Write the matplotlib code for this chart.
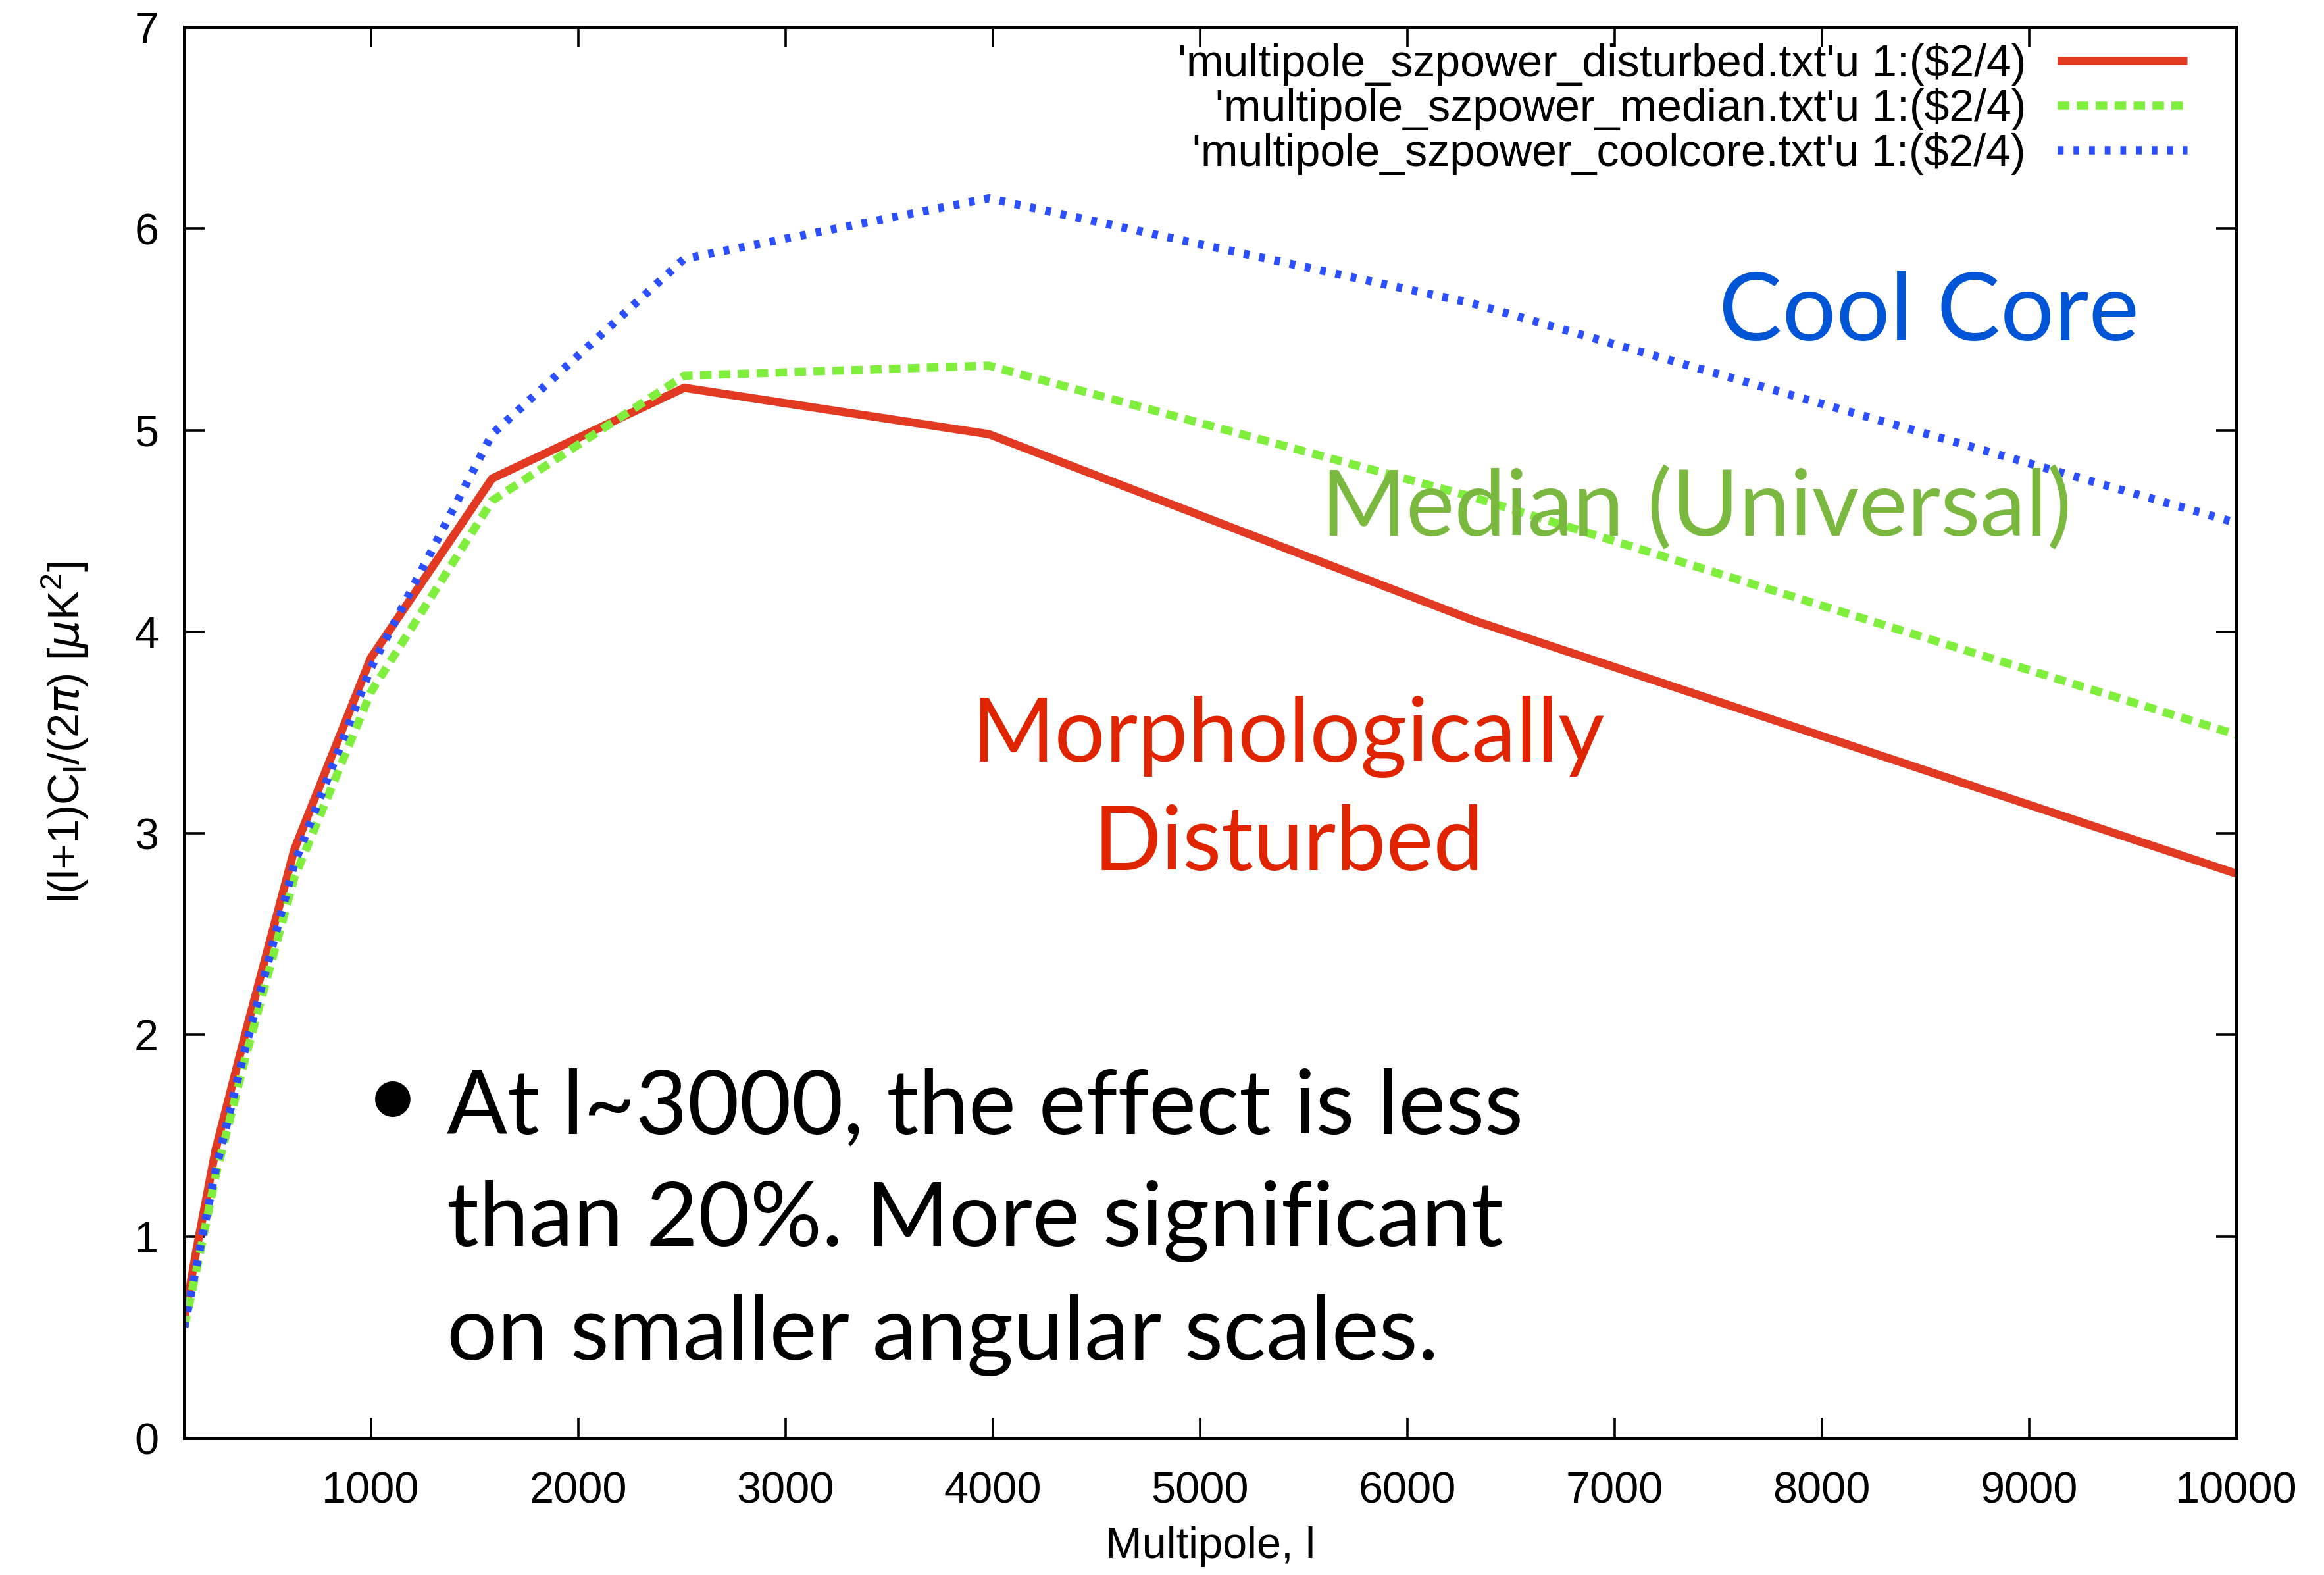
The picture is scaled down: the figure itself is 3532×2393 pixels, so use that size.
import matplotlib
matplotlib.use("Agg")
import matplotlib.pyplot as plt

# multipoles (log spaced, 5 per decade) and l(l+1)C_l/(2pi)
ell = [100, 158, 251, 398, 631, 1000, 1585, 2512, 3981, 6310, 10000]
disturbed = [0.59, 0.93, 1.43, 2.02, 2.92, 3.87, 4.76, 5.21, 4.98, 4.06, 2.80]
median = [0.55, 0.83, 1.30, 1.90, 2.78, 3.70, 4.65, 5.27, 5.32, 4.67, 3.49]
coolcore = [0.55, 0.85, 1.33, 1.95, 2.85, 3.82, 4.98, 5.85, 6.15, 5.63, 4.54]

labels = ["'multipole_szpower_disturbed.txt'u 1:($2/4)",
          "'multipole_szpower_median.txt'u 1:($2/4)",
          "'multipole_szpower_coolcore.txt'u 1:($2/4)"]
xticks = [1000, 2000, 3000, 4000, 5000, 6000, 7000, 8000, 9000, 10000]
yticks = [0, 1, 2, 3, 4, 5, 6, 7]

plt.rcParams['font.family'] = ['Liberation Sans', 'DejaVu Sans']

fig = plt.figure(figsize=(17.66, 11.965), dpi=200)
ax = fig.add_axes([0.0793, 0.0869, 0.883, 0.896])

lw = 4.5
ax.plot(ell, disturbed, color='#e23a22', lw=lw, solid_capstyle='butt', label=labels[0])
ax.plot(ell, median, color='#80ee3c', lw=lw, dashes=(1.4, 0.9), dash_capstyle='butt', label=labels[1])
ax.plot(ell, coolcore, color='#2b4fff', lw=lw, dashes=(0.7, 1.2), dash_capstyle='butt', label=labels[2])

ax.set_xlim(100, 10000)
ax.set_ylim(0, 7)
ax.set_xticks(xticks)
ax.set_yticks(yticks)
ax.tick_params(direction='in', length=11, width=1.3, labelsize=24,
               top=True, right=True)
ax.tick_params(axis='x', pad=18)
ax.tick_params(axis='y', pad=14)
for s in ax.spines.values():
    s.set_linewidth(1.8)

ax.set_xlabel('Multipole, l', fontsize=24, labelpad=8)
ax.set_ylabel(r'l(l+1)C$_\mathregular{l}$/(2$\pi$) [$\mu$K$^\mathregular{2}$]', fontsize=24, labelpad=24)

leg = ax.legend(loc='upper right', frameon=False, markerfirst=False, fontsize=24.5,
                handlelength=2.9, handletextpad=0.7, labelspacing=0.05,
                borderaxespad=0.0, borderpad=0.0, bbox_to_anchor=(0.976, 0.989))

# slide annotations
ann = ['Lato', 'DejaVu Sans']
ax.text(0.85, 0.797, 'Cool Core', transform=ax.transAxes, color='#0055d6',
        fontsize=52, family=ann, ha='center', va='center')
ax.text(0.737, 0.658, 'Median (Universal)', transform=ax.transAxes, color='#7ab840',
        fontsize=50, family=ann, ha='center', va='center')
ax.text(0.538, 0.459, 'Morphologically\nDisturbed', transform=ax.transAxes, color='#e02400',
        fontsize=49, family=ann, ha='center', va='center', linespacing=1.4)
ax.text(0.088, 0.239, u'\u2022', transform=ax.transAxes, color='black',
        fontsize=52, family=ann, ha='left', va='center')
ax.text(0.128, 0.153, 'At l~3000, the effect is less\nthan 20%. More significant\non smaller angular scales.',
        transform=ax.transAxes, color='black', fontsize=49, family=ann,
        ha='left', va='center', linespacing=1.48)

fig.savefig('out.png', dpi=200)
